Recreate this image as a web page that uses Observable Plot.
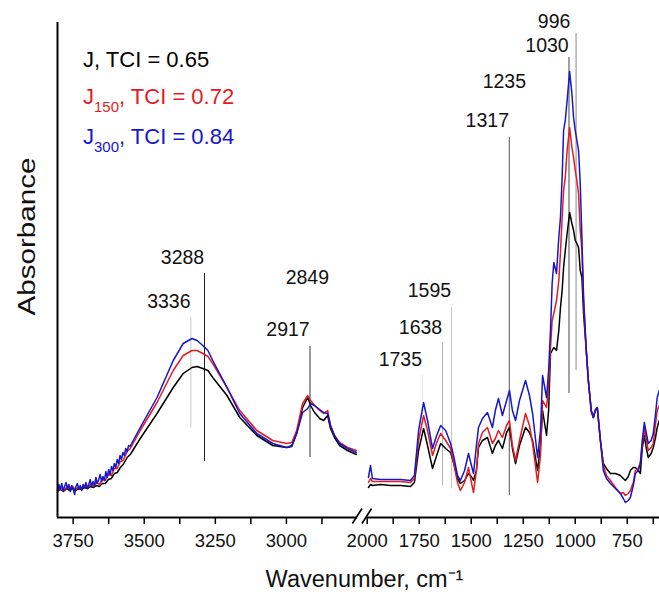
<!DOCTYPE html>
<html>
<head>
<meta charset="utf-8">
<script src="https://cdn.jsdelivr.net/npm/d3@7"></script>
<script src="https://cdn.jsdelivr.net/npm/@observablehq/plot@0.6"></script>
<style>
  html, body { margin: 0; padding: 0; background: #fff; }
  #wrap { position: relative; width: 659px; height: 597px; font-family: 'Liberation Sans', Arial, sans-serif; }
  .leg { position: absolute; left: 83px; font-size: 22px; line-height: 25px; white-space: nowrap; }
  .leg .sub { font-size: 15px; position: relative; top: 8px; }
</style>
</head>
<body>
<div id="wrap"><div id="chart"></div></div>
<script>
// ---- Data (absorbance in arbitrary units) ----
const seriesNames = ["J", "J150", "J300"];
const legendBase = ["J", "J", "J"];
const legendSub = ["", "150", "300"];
const tciValues = ["0.65", "0.72", "0.84"];

// noisy high-wavenumber start (J300 recorded densely, J / J150 coarser)
const startWavenumberDense = [3805,3800,3795,3790,3785,3780,3775,3770,3765,3760,3755,3750,3745,3740,3735,3730,3725,3720,3715,3710,3705,3700,3695,3690,3685,3680,3675,3670,3665,3660,3655,3650,3645,3640,3635,3630,3625,3620,3615,3610,3605,3600,3595,3590,3585,3580,3575,3570,3565,3560,3555,3550];
const startJ300 = [.050,.066,.056,.068,.054,.062,.070,.058,.066,.052,.064,.058,.046,.062,.068,.056,.064,.054,.066,.060,.070,.058,.066,.076,.062,.072,.064,.080,.068,.076,.086,.072,.082,.074,.092,.080,.096,.086,.102,.094,.108,.100,.116,.108,.124,.116,.130,.124,.138,.132,.144,.142];
const startWavenumber = [3805,3794,3784,3773,3763,3752,3742,3731,3721,3710,3700,3689,3679,3668,3658,3647,3637,3626,3616,3605,3595,3584,3574,3560,3549];
const startJ150 = [.056,.058,.054,.060,.058,.062,.056,.060,.058,.064,.060,.066,.062,.070,.066,.076,.074,.086,.084,.098,.098,.112,.114,.132,.138];
const startJ = [.054,.056,.052,.058,.054,.058,.054,.058,.056,.060,.058,.062,.060,.064,.062,.068,.068,.076,.078,.088,.090,.100,.106,.120,.126];

const leftWavenumber = [3514,3455,3398,3363,3332,3314,3294,3276,3259,3209,3164,3104,3048,2999,2981,2964,2943,2925,2915,2901,2883,2869,2855,2845,2831,2813,2785,2754];
const leftJ300 = [.180,.240,.314,.348,.358,.354,.344,.334,.314,.260,.208,.168,.148,.140,.144,.168,.210,.218,.228,.224,.216,.210,.208,.184,.164,.148,.138,.130];
const leftJ150 = [.174,.230,.294,.324,.334,.334,.328,.322,.308,.260,.214,.174,.154,.148,.150,.174,.228,.244,.234,.224,.214,.208,.214,.184,.164,.150,.140,.134];
const leftJ = [.158,.208,.260,.288,.300,.302,.298,.294,.280,.244,.200,.164,.144,.140,.142,.168,.220,.240,.224,.210,.198,.194,.204,.178,.160,.144,.134,.126];

const rightWavenumber = [1994,1984,1975,1936,1888,1840,1792,1773,1753,1729,1710,1686,1666,1647,1623,1599,1585,1566,1552,1532,1513,1499,1489,1475,1465,1446,1422,1398,1384,1369,1350,1330,1316,1302,1287,1268,1239,1220,1205,1181,1167,1157,1138,1128,1119,1111,1103,1090,1079,1071,1063,1056,1048,1039,1027,1016,1008,1000,992,984,976,968,960,947,937,923,913,904,894,879,865,850,831,807,783,769,759,745,735,721,711,697,687,678,668,659,649,635,625,615,606,596];
const rightJ300 = [.080,.104,.078,.076,.076,.076,.074,.084,.174,.230,
  .194,.138,.164,.184,.174,.148,.124,.084,.074,.094,
  .128,.104,.088,.144,.180,.198,.210,.180,.214,.238,
  .204,.234,.254,.214,.194,.234,.274,.244,.208,.120,
  .174,.284,.240,.294,.374,.468,.510,.488,.560,.600,
  .680,.774,.794,.834,.892,.848,.800,.774,.754,.734,
  .668,.560,.440,.334,.274,.214,.200,.214,.220,.154,
  .094,.078,.068,.058,.048,.038,.030,.034,.040,.064,
  .088,.094,.108,.154,.190,.170,.148,.154,.168,.204,
  .240,.254];
const rightJ150 = [.070,.078,.072,.072,.072,.072,.070,.078,.154,.204,
  .174,.124,.150,.168,.154,.138,.110,.070,.054,.070,
  .100,.070,.050,.094,.148,.170,.180,.148,.158,.174,
  .160,.184,.194,.144,.114,.154,.208,.184,.148,.070,
  .124,.234,.220,.264,.340,.394,.408,.434,.474,.530,
  .600,.654,.680,.734,.780,.740,.720,.694,.674,.648,
  .574,.534,.434,.334,.274,.210,.200,.214,.220,.154,
  .104,.084,.074,.060,.048,.050,.044,.048,.054,.070,
  .094,.098,.110,.144,.178,.158,.134,.140,.148,.184,
  .214,.224];
const rightJ = [.060,.066,.064,.066,.064,.064,.062,.070,.134,.178,
  .144,.098,.124,.148,.138,.130,.110,.078,.068,.074,
  .088,.082,.074,.094,.140,.154,.160,.128,.144,.154,
  .138,.170,.180,.138,.108,.144,.180,.170,.154,.094,
  .144,.214,.164,.214,.328,.334,.340,.334,.374,.420,
  .454,.500,.534,.568,.610,.588,.574,.554,.548,.540,
  .494,.480,.408,.334,.274,.214,.200,.214,.220,.154,
  .108,.098,.088,.088,.084,.078,.074,.082,.094,.100,
  .100,.094,.088,.138,.164,.140,.120,.128,.140,.158,
  .180,.194];

const majorTicks = [3750, 3500, 3250, 3000, 2000, 1750, 1500, 1250, 1000, 750];
const minorTicks = [3625, 3375, 3125, 2875, 1875, 1625, 1375, 1125, 875, 625];

const peakLabels = ["3336", "3288", "2917", "2849", "1735", "1638", "1595", "1317", "1235", "1030", "996"];
const peakWavenumbers = [3336, 3288, 2917, 2849, 1735, 1638, 1595, 1317, 1235, 1030, 996];

// ---- Layout / styling ----
const seriesColors = ["#000000", "#e31b23", "#1616cc"];
const labelHeights = [.420, .508, .364, .468, .304, .368, .442, .782, .860, .932, .980];
const guides = [
  {w: 3336, top: .400, bottom: .180, color: "#c8c8c8"},
  {w: 3288, top: .488, bottom: .112, color: "#222222"},
  {w: 2917, top: .342, bottom: .120, color: "#333333"},
  {w: 1735, top: .284, bottom: .234, color: "#e4e4e4"},
  {w: 1638, top: .350, bottom: .064, color: "#b4b4b4"},
  {w: 1595, top: .420, bottom: .058, color: "#c4c4c4"},
  {w: 1317, top: .760, bottom: .044, color: "#555555"},
  {w: 1030, top: .920, bottom: .248, color: "#444444"},
  {w: 996,  top: .968, bottom: .294, color: "#8a8a8a"}
];
const breakMarks = [
  {x1: 2768, y1: -0.012, x2: 2402, y2: 0.018},
  {x1: 2402, y1: -0.012, x2: 1979, y2: 0.018}
];

function tidy(startW, startA, left, right) {
  return [
    ...startW.map((w, i) => ({w, a: startA[i], panel: "left"})),
    ...leftWavenumber.map((w, i) => ({w, a: left[i], panel: "left"})),
    ...rightWavenumber.map((w, i) => ({w, a: right[i], panel: "right"}))
  ];
}
const seriesData = [
  tidy(startWavenumber, startJ, leftJ, rightJ),
  tidy(startWavenumber, startJ150, leftJ150, rightJ150),
  tidy(startWavenumberDense, startJ300, leftJ300, rightJ300)
];
const labelData = peakLabels.map((t, i) => ({t, w: peakWavenumbers[i], a: labelHeights[i]}));

const chart = Plot.plot({
  width: 659,
  height: 597,
  marginLeft: 57, marginRight: 0, marginTop: 22, marginBottom: 80,
  style: {fontFamily: "'Liberation Sans', Arial, sans-serif", background: "white", color: "black", overflow: "visible"},
  x: {type: "linear", domain: [3805, 2750, 2000, 595], range: [57, 357, 366.7, 659], label: null},
  y: {domain: [0, 0.99], range: [517, 22], axis: null},
  marks: [
    ...guides.map(g => Plot.ruleX([g], {x: "w", y1: "bottom", y2: "top", stroke: g.color, strokeWidth: 1})),
    ...seriesData.map((d, i) => Plot.line(d, {x: "w", y: "a", z: "panel", stroke: seriesColors[i], strokeWidth: 1.5, curve: "linear"})),
    Plot.text(labelData, {x: "w", y: "a", text: "t", dx: -22, lineAnchor: "bottom", textAnchor: "middle", fontSize: 19.5, fill: "#111"}),
    Plot.ruleX([3805], {y1: 0, y2: 0.99, stroke: "#000", strokeWidth: 2}),
    Plot.ruleY([0], {x1: 3805, x2: 2750, stroke: "#000", strokeWidth: 2}),
    Plot.ruleY([0], {x1: 2000, x2: 595, stroke: "#000", strokeWidth: 2}),
    Plot.link(breakMarks, {x1: "x1", y1: "y1", x2: "x2", y2: "y2", stroke: "#000", strokeWidth: 1.6}),
    Plot.axisX({ticks: majorTicks, tickSize: 7, tickPadding: 9, tickFormat: d => String(d), fontSize: 18.5, label: null, strokeWidth: 1.5, fill: "#111"}),
    Plot.axisX({ticks: minorTicks, tickSize: 7, tickFormat: () => "", fill: "none", label: null, strokeWidth: 1.5}),
    Plot.text(["Wavenumber, cm\u207B\u00B9"], {text: d => d, frameAnchor: "bottom", dx: 6, dy: 69, lineAnchor: "bottom", textAnchor: "middle", fontSize: 23.5, fill: "#111"}),
    Plot.text(["Absorbance"], {text: d => d, frameAnchor: "left", textAnchor: "middle", rotate: -90, dx: -30.5, dy: -33.5, fontSize: 23.5, fill: "#111"})
  ]
});
document.getElementById("chart").appendChild(chart);

// stretch the rotated y title to its printed length
d3.select(chart).selectAll("text").filter(function() { return this.textContent === "Absorbance"; })
  .attr("textLength", 158).attr("lengthAdjust", "spacingAndGlyphs");

// ---- Legend (inside plot, top-left) ----
const wrap = document.getElementById("wrap");
const legendTops = [47, 83.5, 123.5];
seriesNames.forEach((name, i) => {
  const div = document.createElement("div");
  div.className = "leg";
  div.style.top = legendTops[i] + "px";
  div.style.color = seriesColors[i];
  div.textContent = legendBase[i];
  if (legendSub[i]) {
    const s = document.createElement("span");
    s.className = "sub";
    s.textContent = legendSub[i];
    div.appendChild(s);
  }
  div.appendChild(document.createTextNode(", TCI = " + tciValues[i]));
  wrap.appendChild(div);
});
</script>
</body>
</html>
